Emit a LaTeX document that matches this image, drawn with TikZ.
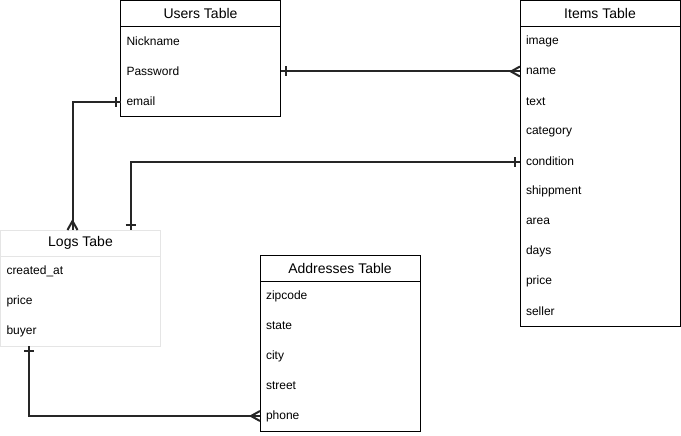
\documentclass[tikz,border=0pt]{standalone}
\usepackage{fontspec}
\setmainfont{Liberation Sans}
\usetikzlibrary{positioning}

\begin{document}
\begin{tikzpicture}[
  x=0.75pt, y=-0.75pt,
  hdr/.style={anchor=north west, minimum width=120pt, minimum height=19.5pt, inner sep=0pt, outer sep=0pt, font=\fontsize{10.5}{12}\selectfont},
  fld/.style={minimum width=120pt, minimum height=22.5pt, inner ysep=0pt, inner xsep=4.5pt, outer sep=0pt, text width=111pt, align=left, font=\fontsize{9}{11}\selectfont},
  tblline/.style={draw=black, line width=0.75pt},
  faintline/.style={draw=black!10, line width=0.75pt},
  rel/.style={draw=black!85, line width=1.5pt},
  erone/.pic={\draw[rel] (5,-5) -- (5,5);},
  ermany/.pic={\draw[rel] (0,-5) -- (9,0) -- (0,5);},
]
\useasboundingbox (0,0) rectangle (681,435);
% Users Table
\node[hdr] (uh) at (120.5,0.5) {Users Table};
\node[fld, below=0pt of uh] (nick) {Nickname};
\node[fld, below=0pt of nick] (pw) {Password};
\node[fld, below=0pt of pw] (em) {email};
\draw[tblline] (uh.north west) rectangle (em.south east);
\draw[tblline] (uh.south west) -- (uh.south east);
% Items Table
\node[hdr] (ih) at (520,0.5) {Items Table};
\node[fld, below=0pt of ih] (img) {image};
\node[fld, below=0pt of img] (nm) {name};
\node[fld, below=0pt of nm] (tx) {text};
\node[fld, below=0pt of tx] (cat) {category};
\node[fld, below=0pt of cat] (cd) {condition};
\node[fld, below=0pt of cd] (shp) {shippment};
\node[fld, below=0pt of shp] (ar) {area};
\node[fld, below=0pt of ar] (dy) {days};
\node[fld, below=0pt of dy] (ipr) {price};
\node[fld, below=0pt of ipr] (sl) {seller};
\draw[tblline] (ih.north west) rectangle (sl.south east);
\draw[tblline] (ih.south west) -- (ih.south east);
% Logs Tabe
\node[hdr] (lh) at (0.5,230) {Logs Tabe};
\node[fld, below=0pt of lh] (ca) {created\_at};
\node[fld, below=0pt of ca] (lpr) {price};
\node[fld, below=0pt of lpr] (by) {buyer};
\draw[faintline] (lh.north west) rectangle (by.south east);
\draw[faintline] (lh.south west) -- (lh.south east);
\coordinate (lgin) at ([xshift=54pt]lh.north west);
\coordinate (lgout) at ([xshift=97.5pt]lh.north west);
\coordinate (lgbot) at ([xshift=21pt]by.south west);
% Addresses Table
\node[hdr] (ah) at (260,255) {Addresses Table};
\node[fld, below=0pt of ah] (zc) {zipcode};
\node[fld, below=0pt of zc] (st) {state};
\node[fld, below=0pt of st] (ct) {city};
\node[fld, below=0pt of ct] (str) {street};
\node[fld, below=0pt of str] (ph) {phone};
\draw[tblline] (ah.north west) rectangle (ph.south east);
\draw[tblline] (ah.south west) -- (ah.south east);
% relations
\draw[rel] (pw.east) -- (nm.west);
\pic at (pw.east) {erone};
\pic[rotate=180] at (nm.west) {ermany};
\draw[rel] (em.west) -| (lgin);
\pic[rotate=180] at (em.west) {erone};
\pic[rotate=90] at (lgin) {ermany};
\draw[rel] (cd.west) -| (lgout);
\pic[rotate=180] at (cd.west) {erone};
\pic[rotate=90] at (lgout) {erone};
\draw[rel] (lgbot) |- (ph.west);
\pic[rotate=-90] at (lgbot) {erone};
\pic[rotate=180] at (ph.west) {ermany};
\end{tikzpicture}
\end{document}
